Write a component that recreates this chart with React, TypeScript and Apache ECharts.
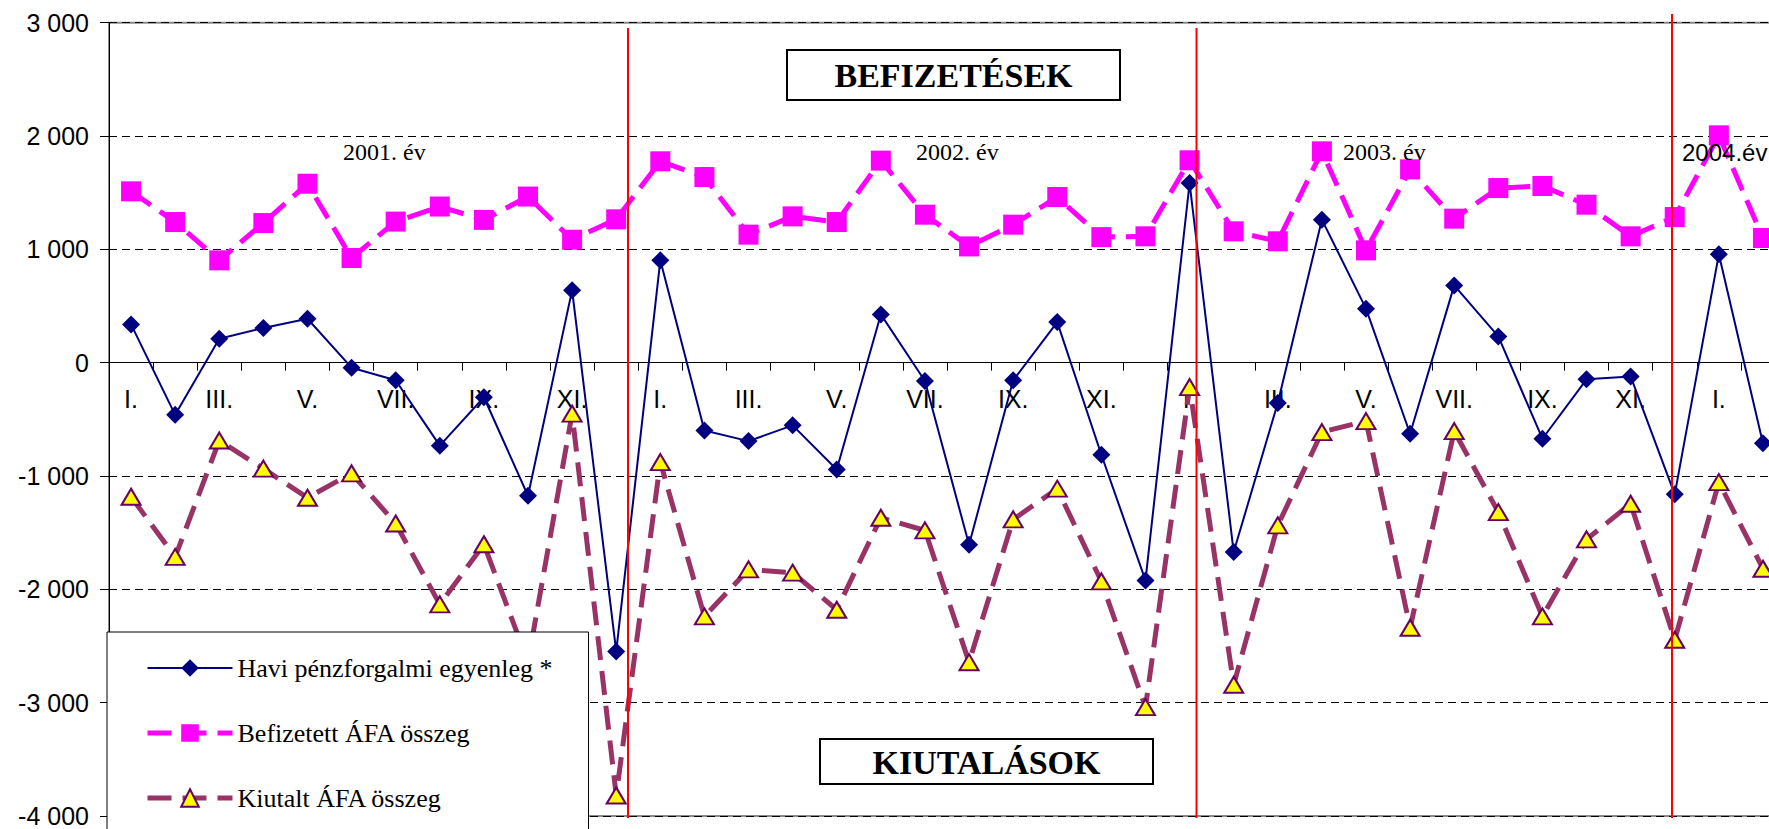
import React, { useEffect, useRef } from "react";
import * as echarts from "echarts";

const categories = [
  "I.", "II.", "III.", "IV.", "V.", "VI.", "VII.", "VIII.", "IX.", "X.", "XI.", "XII.",
  "I.", "II.", "III.", "IV.", "V.", "VI.", "VII.", "VIII.", "IX.", "X.", "XI.", "XII.",
  "I.", "II.", "III.", "IV.", "V.", "VI.", "VII.", "VIII.", "IX.", "X.", "XI.", "XII.",
  "I.", "II.",
];

const havi = [
  338, -460, 212, 306, 388, -44, -155, -732, -305, -1174, 640, -2548,
  903, -598, -692, -553, -942, 426, -162, -1606, -156, 358, -812, -1921,
  1585, -1671, -355, 1262, 477, -627, 682, 232, -671, -147, -121, -1162,
  956, -710,
];

const befizetett = [
  1512, 1241, 903, 1232, 1579, 924, 1245, 1378, 1260, 1466, 1085, 1265,
  1777, 1638, 1130, 1291, 1241, 1783, 1306, 1026, 1218, 1462, 1108, 1115,
  1786, 1159, 1071, 1865, 991, 1706, 1271, 1541, 1559, 1394, 1115, 1285,
  2006, 1100,
];

const kiutalt = [
  -1183, -1714, -687, -935, -1192, -976, -1419, -2133, -1602, -2640, -450, -3819,
  -877, -2239, -1824, -1853, -2180, -1368, -1480, -2643, -1383, -1112, -1930, -3040,
  -215, -2842, -1436, -612, -515, -2339, -604, -1319, -2239, -1559, -1245, -2445,
  -1054, -1818,
];

const seriesNames = [
  "Havi pénzforgalmi egyenleg *",
  "Befizetett ÁFA összeg",
  "Kiutalt ÁFA összeg",
];

const yearLabels = ["2001. év", "2002. év", "2003. év", "2004.év"];
const boxLabels = ["BEFIZETÉSEK", "KIUTALÁSOK"];

const SERIF = "'Liberation Serif', 'Times New Roman', serif";
const SANS = "'Liberation Sans', Arial, sans-serif";

const Y_MIN = -4000;
const Y_MAX = 3000;

function fmt(v: number): string {
  const s = Math.abs(v).toString().replace(/\B(?=(\d{3})+(?!\d))/g, " ");
  return (v < 0 ? "-" : "") + s;
}

export default function App() {
  const ref = useRef<HTMLDivElement>(null);

  useEffect(() => {
    if (!ref.current) return;
    const chart = echarts.init(ref.current, null, { renderer: "svg" });

    const H = 829;
    const gridTop = 22.7;
    const gridBottom = 13;
    const plotH = H - gridTop - gridBottom;
    // distance from bottom edge of grid up to the zero line
    const zeroOffset = -(plotH * (0 - Y_MIN)) / (Y_MAX - Y_MIN);

    const option: any = {
      animation: false,
      backgroundColor: "#ffffff",
      grid: {
        left: 109,
        top: gridTop,
        bottom: gridBottom,
        right: -16,
        containLabel: false,
        outerBoundsMode: "none",
        show: true,
        borderColor: "#8a8a8a",
        borderWidth: 2,
        backgroundColor: "transparent",
      },
      legend: {
        orient: "vertical",
        left: 107,
        top: 632,
        height: 400,
        itemWidth: 85,
        itemHeight: 22,
        itemGap: 39,
        itemTextGap: 6,
        padding: [23, 36, 60, 38],
        backgroundColor: "#ffffff",
        borderColor: "#000000",
        borderWidth: 1,
        borderRadius: 0,
        textStyle: { fontFamily: SERIF, fontSize: 26, color: "#000" },
        data: [
          { name: seriesNames[0], lineStyle: { width: 2 } },
          { name: seriesNames[1], lineStyle: { width: 5 } },
          { name: seriesNames[2], lineStyle: { width: 5 } },
        ],
      },
      xAxis: {
        type: "category",
        data: categories,
        boundaryGap: true,
        offset: zeroOffset,
        axisLine: { onZero: false, lineStyle: { color: "#000", width: 1 } },
        axisTick: { show: true, interval: 0, length: 8, lineStyle: { color: "#000" } },
        axisLabel: {
          interval: 1,
          margin: 24,
          fontFamily: SANS,
          fontSize: 25,
          color: "#000",
        },
        splitLine: { show: false },
      },
      yAxis: {
        type: "value",
        min: Y_MIN,
        max: Y_MAX,
        interval: 1000,
        axisLine: { show: true, lineStyle: { color: "#000", width: 1 } },
        axisTick: { show: true, length: 9, lineStyle: { color: "#000" } },
        axisLabel: {
          margin: 20,
          fontFamily: SANS,
          fontSize: 25,
          color: "#000",
          formatter: (v: number) => fmt(v),
        },
        splitLine: {
          show: true,
          lineStyle: { color: "#000", width: 1, type: [8, 5] },
        },
      },
      series: [
        {
          name: seriesNames[0],
          type: "line",
          data: havi,
          symbol: "diamond",
          symbolSize: 18,
          z: 4,
          lineStyle: { color: "#000080", width: 2 },
          itemStyle: { color: "#000080" },
        },
        {
          name: seriesNames[1],
          type: "line",
          data: befizetett,
          symbol: "rect",
          symbolSize: 20,
          z: 3,
          lineStyle: { color: "#FF00FF", width: 5, type: [24, 11] },
          itemStyle: { color: "#FF00FF" },
        },
        {
          name: seriesNames[2],
          type: "line",
          data: kiutalt,
          symbol: "triangle",
          symbolSize: [19, 16],
          z: 3,
          lineStyle: { color: "#993366", width: 5, type: [24, 11] },
          itemStyle: { color: "#FFFF00", borderColor: "#660066", borderWidth: 2 },
        },
      ],
      graphic: [
        {
          type: "group",
          z: 100,
          children: [
            { type: "line", shape: { x1: 628, y1: 28, x2: 628, y2: 818 }, style: { stroke: "#FF0000", lineWidth: 2 }, z: 100 },
            { type: "line", shape: { x1: 1196.5, y1: 28, x2: 1196.5, y2: 818 }, style: { stroke: "#FF0000", lineWidth: 2 }, z: 100 },
            { type: "line", shape: { x1: 1672, y1: 14, x2: 1672, y2: 818 }, style: { stroke: "#FF0000", lineWidth: 2 }, z: 100 },
            {
              type: "rect",
              shape: { x: 787, y: 50, width: 333, height: 50 },
              style: { fill: "#fff", stroke: "#000", lineWidth: 2 },
              z: 100,
            },
            {
              type: "text",
              x: 953.5,
              y: 75,
              z: 101,
              style: {
                text: boxLabels[0],
                font: `bold 34px ${SERIF}`,
                fill: "#000",
                align: "center",
                verticalAlign: "middle",
              },
            },
            {
              type: "rect",
              shape: { x: 820, y: 739, width: 333, height: 45 },
              style: { fill: "#fff", stroke: "#000", lineWidth: 2 },
              z: 100,
            },
            {
              type: "text",
              x: 986.5,
              y: 762,
              z: 101,
              style: {
                text: boxLabels[1],
                font: `bold 34px ${SERIF}`,
                fill: "#000",
                align: "center",
                verticalAlign: "middle",
              },
            },
            {
              type: "text", x: 343, y: 152, z: 101,
              style: { text: yearLabels[0], font: `24px ${SERIF}`, fill: "#000", align: "left", verticalAlign: "middle" },
            },
            {
              type: "text", x: 916, y: 152, z: 101,
              style: { text: yearLabels[1], font: `24px ${SERIF}`, fill: "#000", align: "left", verticalAlign: "middle" },
            },
            {
              type: "text", x: 1343, y: 152, z: 101,
              style: { text: yearLabels[2], font: `24px ${SERIF}`, fill: "#000", align: "left", verticalAlign: "middle" },
            },
            {
              type: "text", x: 1682, y: 152, z: 101,
              style: { text: yearLabels[3], font: `24px ${SANS}`, fill: "#000", align: "left", verticalAlign: "middle" },
            },
          ],
        },
      ],
    };

    chart.setOption(option);
    return () => chart.dispose();
  }, []);

  return (
    <div
      ref={ref}
      style={{ position: "absolute", left: 0, top: 0, width: 1769, height: 829, overflow: "hidden" }}
    />
  );
}
